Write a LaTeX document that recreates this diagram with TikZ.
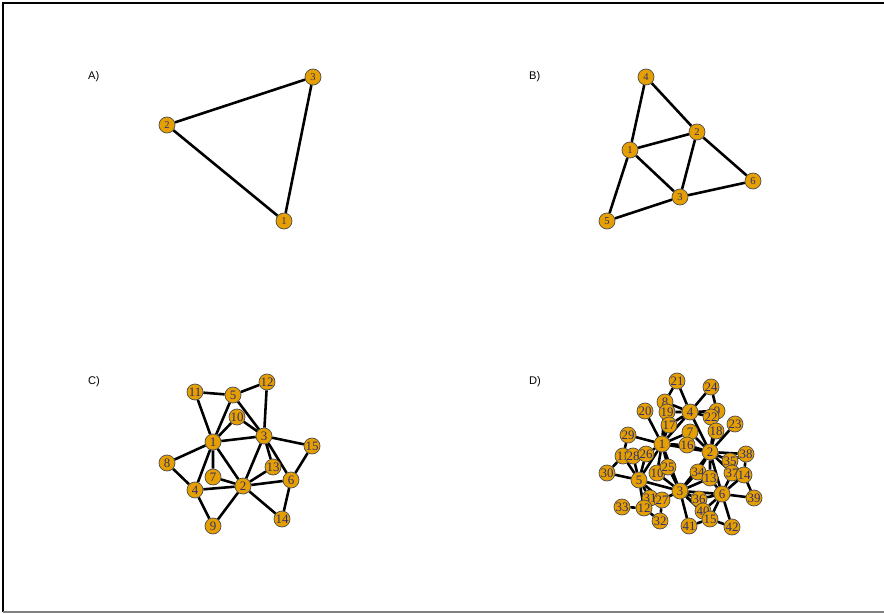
\documentclass[tikz,border=0pt]{standalone}
\usepackage{fontspec}
\setmainfont{Liberation Serif}
\setsansfont{Liberation Sans}
\usetikzlibrary{backgrounds}
\definecolor{Vert}{HTML}{E69F00}
\definecolor{Rim}{HTML}{4D4D4D}
\definecolor{Lab}{HTML}{2E2E78}

\begin{document}
\begin{tikzpicture}[
    x=0.03cm,y=-0.03cm,
    vert/.style={circle,draw=Rim,fill=Vert,line width=0.6pt,minimum size=0.48cm,
                 inner sep=0pt,text=Lab,font=\fontsize{9}{9}\selectfont},
    big/.style={vert,font=\fontsize{11}{11}\selectfont},
    edge/.style={line width=2.2pt,black},
    panel/.style={font=\sffamily\fontsize{9.5}{9.5}\selectfont,anchor=west}
  ]
    \useasboundingbox (0,0) rectangle (884,614);
    \draw[line width=1.2pt] (3,612) -- (3,3) -- (884,3);
    \draw[line width=1.2pt,gray] (3,612) -- (884,612);

    % A)
    \node[panel] (lA) at (84,77) {A)};
    \node[vert] (a3) at (313,77) {3};
    \node[vert] (a2) at (167,125) {2};
    \node[vert] (a1) at (284,221) {1};

    % B)
    \node[panel] (lB) at (525,77) {B)};
    \node[vert] (b4) at (646,77) {4};
    \node[vert] (b2) at (697,132) {2};
    \node[vert] (b1) at (630,150) {1};
    \node[vert] (b6) at (753,181) {6};
    \node[vert] (b3) at (680,197) {3};
    \node[vert] (b5) at (607,221) {5};

    % C)
    \node[panel] (lC) at (84,382) {C)};
    \node[big] (c11) at (195,392) {11};
    \node[big] (c5) at (233,395) {5};
    \node[big] (c12) at (267,382) {12};
    \node[big] (c10) at (237,417) {10};
    \node[big] (c1) at (213,442) {1};
    \node[big] (c3) at (264,436) {3};
    \node[big] (c15) at (312,446) {15};
    \node[big] (c8) at (167,463) {8};
    \node[big] (c7) at (213,477) {7};
    \node[big] (c13) at (273,467) {13};
    \node[big] (c6) at (291,480) {6};
    \node[big] (c4) at (195,490) {4};
    \node[big] (c2) at (243,486) {2};
    \node[big] (c9) at (213,526) {9};
    \node[big] (c14) at (282,519) {14};

    % D)
    \node[panel] (lD) at (525,382) {D)};
    \node[big] (d21) at (677,381) {21};
    \node[big] (d24) at (711,387) {24};
    \node[big] (d8) at (665,402) {8};
    \node[big] (d20) at (645,411) {20};
    \node[big] (d19) at (667,412) {19};
    \node[big] (d4) at (690,412) {4};
    \node[big] (d9) at (717,411) {9};
    \node[big] (d22) at (711,417) {22};
    \node[big] (d17) at (669,425) {17};
    \node[big] (d23) at (735,424) {23};
    \node[big] (d7) at (690,432) {7};
    \node[big] (d18) at (716,431) {18};
    \node[big] (d29) at (628,435) {29};
    \node[big] (d1) at (662,444) {1};
    \node[big] (d16) at (687,445) {16};
    \node[big] (d2) at (710,452) {2};
    \node[big] (d38) at (746,454) {38};
    \node[big] (d11) at (623,456) {11};
    \node[big] (d28) at (633,456) {28};
    \node[big] (d26) at (646,454) {26};
    \node[big] (d35) at (730,461) {35};
    \node[big] (d30) at (607,473) {30};
    \node[big] (d10) at (657,473) {10};
    \node[big] (d25) at (668,467) {25};
    \node[big] (d34) at (698,472) {34};
    \node[big] (d13) at (710,478) {13};
    \node[big] (d37) at (732,473) {37};
    \node[big] (d14) at (744,475) {14};
    \node[big] (d5) at (639,480) {5};
    \node[big] (d3) at (680,491) {3};
    \node[big] (d6) at (722,494) {6};
    \node[big] (d31) at (650,498) {31};
    \node[big] (d27) at (662,500) {27};
    \node[big] (d36) at (699,499) {36};
    \node[big] (d39) at (754,498) {39};
    \node[big] (d33) at (622,507) {33};
    \node[big] (d12) at (644,508) {12};
    \node[big] (d40) at (703,511) {40};
    \node[big] (d15) at (710,519) {15};
    \node[big] (d32) at (660,521) {32};
    \node[big] (d41) at (689,526) {41};
    \node[big] (d42) at (732,527) {42};

    \begin{pgfonlayer}{background}
    \draw[edge] (a1)--(a2) (a2)--(a3) (a3)--(a1);
    \draw[edge] (b4)--(b1) (b4)--(b2) (b1)--(b2) (b1)--(b3) (b2)--(b3)
                (b1)--(b5) (b5)--(b3) (b3)--(b6) (b2)--(b6);
    \draw[edge] (c11)--(c5) (c11)--(c1) (c5)--(c12) (c5)--(c1) (c5)--(c3)
                (c12)--(c3) (c10)--(c1) (c10)--(c3) (c1)--(c3) (c1)--(c8)
                (c1)--(c7) (c1)--(c4) (c1)--(c2) (c8)--(c4) (c3)--(c2)
                (c3)--(c13) (c3)--(c6) (c3)--(c15) (c15)--(c6) (c7)--(c2)
                (c4)--(c2) (c2)--(c13) (c2)--(c6) (c2)--(c14) (c2)--(c9)
                (c4)--(c9) (c6)--(c14);
    \draw[edge] (d21)--(d8) (d21)--(d4) (d24)--(d4) (d24)--(d9) (d8)--(d4)
                (d8)--(d1) (d19)--(d1) (d20)--(d1) (d19)--(d4) (d4)--(d1)
                (d4)--(d2) (d4)--(d22) (d4)--(d9) (d9)--(d22) (d9)--(d2)
                (d23)--(d2) (d18)--(d2) (d17)--(d1) (d17)--(d4) (d7)--(d1)
                (d7)--(d2) (d16)--(d1) (d16)--(d2) (d29)--(d1) (d29)--(d11)
                (d11)--(d30) (d11)--(d5) (d28)--(d5) (d26)--(d1) (d26)--(d5)
                (d1)--(d10) (d1)--(d25) (d1)--(d3) (d1)--(d5) (d1)--(d2)
                (d10)--(d3) (d25)--(d3) (d30)--(d5) (d5)--(d31) (d5)--(d3)
                (d5)--(d12) (d5)--(d27) (d33)--(d12) (d12)--(d31) (d12)--(d32)
                (d12)--(d3) (d32)--(d27) (d27)--(d3) (d3)--(d41) (d3)--(d36)
                (d3)--(d40) (d3)--(d15) (d3)--(d34) (d3)--(d13) (d3)--(d2)
                (d3)--(d6) (d2)--(d35) (d2)--(d38) (d2)--(d37) (d2)--(d13)
                (d2)--(d6) (d2)--(d34) (d38)--(d35) (d38)--(d14) (d14)--(d37)
                (d14)--(d39) (d14)--(d6) (d6)--(d39) (d6)--(d42) (d6)--(d15)
                (d6)--(d40) (d6)--(d36) (d6)--(d13) (d6)--(d37) (d15)--(d42)
                (d15)--(d41) (d15)--(d40) (d40)--(d36);
    \end{pgfonlayer}
  \end{tikzpicture}
\end{document}
